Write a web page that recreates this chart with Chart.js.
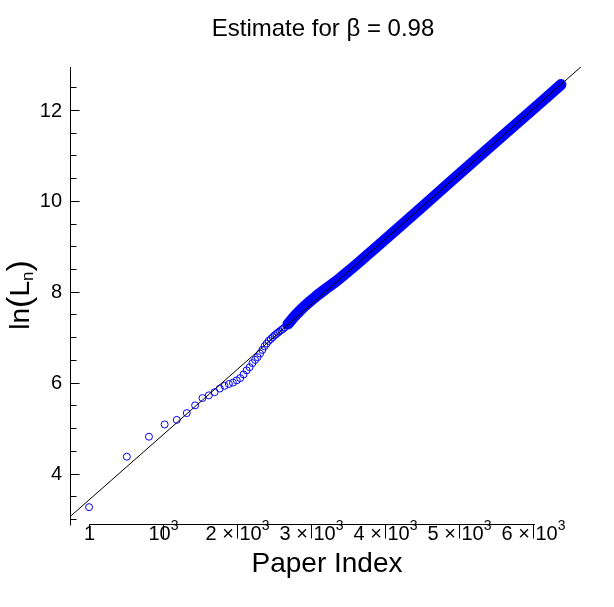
<!DOCTYPE html>
<html><head><meta charset="utf-8">
<script src="https://cdn.jsdelivr.net/npm/chart.js@4/dist/chart.umd.min.js"></script>
<style>html,body{margin:0;padding:0;background:#fff}#wrap{width:614px;height:607px}</style>
</head><body><div id="wrap"><canvas id="c" width="614" height="607"></canvas></div>
<script>
// ---- data ----
const chartTitle = "Estimate for β = 0.98";
const xTitle = "Paper Index";
// individually visible (hollow) points
const paperX = [1,511,810,1022,1186,1321,1434,1533,1619,1697,1767,1831,1890,1945,1996,2043,2088,2130,2170,2208,2244,2278,2311,2342,2372,2401,2429,2456,2482,2507,2531,2554,2577,2599,2620,2641];
const lnL   = [3.26,4.37,4.81,5.08,5.18,5.33,5.50,5.66,5.72,5.79,5.87,5.93,5.97,6.00,6.05,6.10,6.18,6.27,6.34,6.43,6.50,6.56,6.64,6.72,6.80,6.86,6.92,6.96,7.00,7.04,7.07,7.10,7.13,7.16,7.18,7.21];
// dense band of overlapping points (centre line)
const bandX = [2689,2784,2919,3054,3189,3324,3459,3662,4203,4878,5554,6095,6378];
const bandY = [7.29,7.47,7.69,7.88,8.05,8.21,8.39,8.67,9.44,10.41,11.38,12.15,12.56];
// fitted straight line
const fitX = [-257, 6649];
const fitY = [3.05, 12.95];
// ticks
const xTickValues = [1,1000,2000,3000,4000,5000,6000];
const xTickBase = ["1","10","2 × 10","3 × 10","4 × 10","5 × 10","6 × 10"];
const xTickSup  = ["","3","3","3","3","3","3"];
const yTickValues = [4,6,8,10,12];
const yTickLabels = ["4","6","8","10","12"];

const FONT = '"Liberation Sans", Arial, Helvetica, sans-serif';
const BLUE = 'rgb(0,0,255)';

const axesPlugin = {
  id: 'mmaAxes',
  afterDraw(chart) {
    const ctx = chart.ctx, xs = chart.scales.x, ys = chart.scales.y, ca = chart.chartArea;
    const axisY = Math.round(ys.getPixelForValue(2.89)) + 0.5;
    const axisX = Math.round(ca.left) + 0.5;
    ctx.save();
    ctx.strokeStyle = '#000'; ctx.lineWidth = 1; ctx.fillStyle = '#000';
    // y axis
    ctx.beginPath(); ctx.moveTo(axisX, ca.top); ctx.lineTo(axisX, axisY + 1); ctx.stroke();
    for (let v = 3; v <= 12.5001; v += 0.5) {
      const py = Math.round(ys.getPixelForValue(v)) + 0.5;
      const major = yTickValues.includes(v);
      ctx.beginPath(); ctx.moveTo(axisX, py); ctx.lineTo(axisX + (major ? 9 : 6), py); ctx.stroke();
    }
    ctx.font = '20px ' + FONT; ctx.textAlign = 'right'; ctx.textBaseline = 'middle';
    yTickValues.forEach((v, i) => ctx.fillText(yTickLabels[i], 62, ys.getPixelForValue(v) + 1));
    // x axis
    const x0 = xs.getPixelForValue(xTickValues[0]);
    const x1 = xs.getPixelForValue(6025);
    ctx.beginPath(); ctx.moveTo(x0, axisY); ctx.lineTo(x1, axisY); ctx.stroke();
    xTickValues.forEach((v, i) => {
      const px = Math.round(xs.getPixelForValue(v)) + 0.5;
      ctx.beginPath(); ctx.moveTo(px, axisY); ctx.lineTo(px, axisY + 14); ctx.stroke();
      ctx.font = '20px ' + FONT;
      const wb = ctx.measureText(xTickBase[i]).width;
      ctx.font = '14px ' + FONT;
      const ws = xTickSup[i] ? ctx.measureText(xTickSup[i]).width : 0;
      const start = px - (wb + ws) / 2;
      ctx.textAlign = 'left'; ctx.textBaseline = 'alphabetic';
      ctx.font = '20px ' + FONT; ctx.fillText(xTickBase[i], start, axisY + 15);
      if (xTickSup[i]) { ctx.font = '14px ' + FONT; ctx.fillText(xTickSup[i], start + wb, axisY + 5); }
    });
    // title
    ctx.textAlign = 'center'; ctx.textBaseline = 'alphabetic';
    ctx.font = '24px ' + FONT; ctx.fillText(chartTitle, 323, 36);
    // x title
    ctx.font = '28px ' + FONT; ctx.fillText(xTitle, 327, 572);
    // y title ln(L_n), rotated
    ctx.save();
    ctx.translate(29, 295); ctx.rotate(-Math.PI / 2);
    const parts = [
      {t: 'ln', f: '28px ', dy: 0},
      {t: '(', f: '34px ', dy: 1},
      {t: 'L', f: '28px ', dy: 0},
      {t: 'n', f: '17px ', dy: 4},
      {t: ')', f: '34px ', dy: 1}
    ];
    let tot = 0;
    parts.forEach(p => { ctx.font = p.f + FONT; p.w = ctx.measureText(p.t).width; tot += p.w; });
    let cx = -tot / 2;
    ctx.textAlign = 'left';
    parts.forEach(p => { ctx.font = p.f + FONT; ctx.fillText(p.t, cx, p.dy); cx += p.w; });
    ctx.restore();
    ctx.restore();
  }
};

new Chart(document.getElementById('c'), {
  type: 'scatter',
  data: {
    datasets: [
      { label: 'fit', data: fitX.map((x, i) => ({x, y: fitY[i]})), showLine: true,
        borderColor: '#000', borderWidth: 1, pointRadius: 0, order: 0 },
      { label: 'band', data: bandX.map((x, i) => ({x, y: bandY[i]})), showLine: true,
        borderColor: BLUE, borderWidth: 11, borderCapStyle: 'round', borderJoinStyle: 'round',
        tension: 0.3, pointRadius: 0, order: 1 },
      { label: 'points', data: paperX.map((x, i) => ({x, y: lnL[i]})), showLine: false,
        pointRadius: 3.5, pointBorderWidth: 1, pointBorderColor: BLUE,
        pointBackgroundColor: 'rgba(0,0,0,0)', order: 2 }
    ]
  },
  options: {
    responsive: false, animation: false,
    layout: { padding: { left: 70, top: 67, right: 32, bottom: 80 } },
    plugins: { legend: { display: false }, tooltip: { enabled: false }, title: { display: false } },
    scales: {
      x: { type: 'linear', min: -257, max: 6662, display: false },
      y: { type: 'linear', min: 2.823, max: 12.946, display: false }
    }
  },
  plugins: [axesPlugin]
});
</script></body></html>
